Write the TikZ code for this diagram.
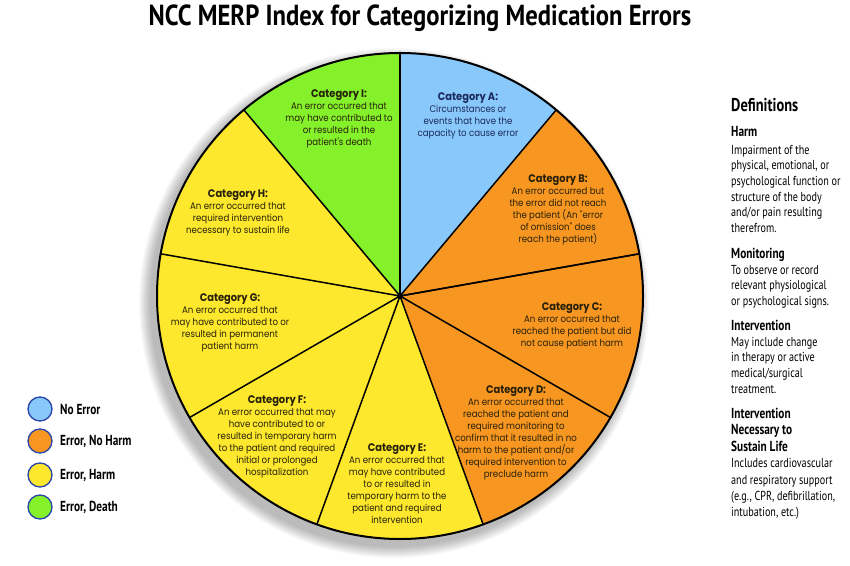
\documentclass[tikz,border=0pt]{standalone}
\usepackage{fontspec}
\usetikzlibrary{calc}
\setmainfont{Poppins}
\newfontfamily\pief[FakeStretch=0.9]{Poppins}
\newfontfamily\condf[FakeStretch=0.78]{PT Sans}
\newfontfamily\titlef[FakeStretch=0.85]{PT Sans}
\definecolor{cblue}{RGB}{137,200,250}
\definecolor{corange}{RGB}{247,150,32}
\definecolor{cyellow}{RGB}{253,232,45}
\definecolor{cgreen}{RGB}{132,241,42}
\definecolor{navytext}{RGB}{27,42,92}
\definecolor{darktext}{RGB}{40,33,10}
\definecolor{legedge}{RGB}{40,70,170}
\newcommand{\cathead}[1]{{\fontsize{11pt}{12pt}\selectfont\bfseries #1}}
\newcommand{\defhead}[1]{{\fontsize{14.5pt}{16pt}\selectfont\bfseries #1}}
\tikzset{
  cattext/.style={font={\pief\fontsize{9.6pt}{12pt}\selectfont}, align=center, text=darktext, inner sep=0pt},
  spoke/.style={draw=black, line width=1.5pt},
  rim/.style={draw=black, line width=2pt},
  deftext/.style={font={\condf\fontsize{13pt}{15.7pt}\selectfont}, align=left, anchor=north west, inner sep=0pt, text=black},
  legdot/.style={circle, draw=legedge, line width=1.3pt, minimum size=24pt, inner sep=0pt},
  legtext/.style={font={\condf\bfseries\fontsize{14.5pt}{16pt}\selectfont}, anchor=west, inner sep=0pt},
}
\begin{document}
\begin{tikzpicture}[x=1pt,y=1pt]
\useasboundingbox (0,0) rectangle (850,565);
\fill[white] (0,0) rectangle (850,565);
\def\R{243}
\coordinate (O) at (400,269);
% soft shadow
\foreach \i in {1,...,12}
  \fill[black, opacity=0.025] ($(O)+(-6,-7)$) circle[radius=\R+\i];
% slices
\foreach \a/\b/\c in {50/90/cblue, 90/130/cgreen, 130/170/cyellow, 170/210/cyellow, 210/250/cyellow, 250/290/cyellow, 290/330/corange, 330/370/corange, 370/410/corange}
  \fill[\c] (O) -- ++(\a:\R) arc[start angle=\a, end angle=\b, radius=\R] -- cycle;
\foreach \a in {10,50,...,370}
  \draw[spoke] (O) -- ++(\a:\R);
\draw[rim] (O) circle[radius=\R];
\fill[black] (O) circle[radius=3];
% title
\node[font={\titlef\bfseries\fontsize{29pt}{30pt}\selectfont}] (title) at (420,547) {NCC MERP Index for Categorizing Medication Errors};
% categories
\node[cattext] (catI) at (339,446) {\cathead{Category I:}\\An error occurred that\\may have contributed to\\or resulted in the\\patient's death};
\node[cattext, text=navytext] (catA) at (468,449) {\cathead{Category A:}\\Circumstances or\\events that have the\\capacity to cause error};
\node[cattext] (catB) at (558,355) {\cathead{Category B:}\\An error occurred but\\the error did not reach\\the patient (An "error\\of omission" does\\reach the patient)};
\node[cattext] (catC) at (572,239) {\cathead{Category C:}\\An error occurred that\\reached the patient but did\\not cause patient harm};
\node[cattext] (catD) at (516,132) {\cathead{Category D:}\\An error occurred that\\reached the patient and\\required monitoring to\\confirm that it resulted in no\\harm to the patient and/or\\required intervention to\\preclude harm};
\node[cattext] (catE) at (397,81) {\cathead{Category E:}\\An error occurred that\\may have contributed\\to or resulted in\\temporary harm to the\\patient and required\\intervention};
\node[cattext] (catF) at (277,128) {\cathead{Category F:}\\An error occurred that may\\have contributed to or\\resulted in temporary harm\\to the patient and required\\initial or prolonged\\hospitalization};
\node[cattext] (catG) at (230,242) {\cathead{Category G:}\\An error occurred that\\may have contributed to or\\resulted in permanent\\patient harm};
\node[cattext] (catH) at (238,352) {\cathead{Category H:}\\An error occurred that\\required intervention\\necessary to sustain life};
% definitions
\node[font={\condf\bfseries\fontsize{18.5pt}{20pt}\selectfont}, anchor=west, inner sep=0pt] (defs) at (731,460) {Definitions};
\node[deftext] (dharm) at (731,439) {\defhead{Harm}\\[2pt]Impairment of the\\physical, emotional, or\\psychological function or\\structure of the body\\and/or pain resulting\\therefrom.};
\node[deftext] (dmon) at (731,317) {\defhead{Monitoring}\\To observe or record\\relevant physiological\\or psychological signs.};
\node[deftext] (dint) at (731,245) {\defhead{Intervention}\\May include change\\in therapy or active\\medical/surgical\\treatment.};
\node[deftext, font={\condf\fontsize{13pt}{16.4pt}\selectfont}] (dinsl) at (731,157) {\defhead{Intervention}\\\defhead{Necessary to}\\\defhead{Sustain Life}\\Includes cardiovascular\\and respiratory support\\(e.g., CPR, defibrillation,\\intubation, etc.)};
% legend
\node[legdot, fill=cblue] (l1) at (40,156) {};
\node[legdot, fill=corange] (l2) at (40,124) {};
\node[legdot, fill=cyellow] (l3) at (40,90) {};
\node[legdot, fill=cgreen] (l4) at (40,58) {};
\node[legtext] (t1) at (60,156) {No Error};
\node[legtext] (t2) at (60,124) {Error, No Harm};
\node[legtext] (t3) at (60,90) {Error, Harm};
\node[legtext] (t4) at (60,58) {Error, Death};
\end{tikzpicture}
\end{document}
